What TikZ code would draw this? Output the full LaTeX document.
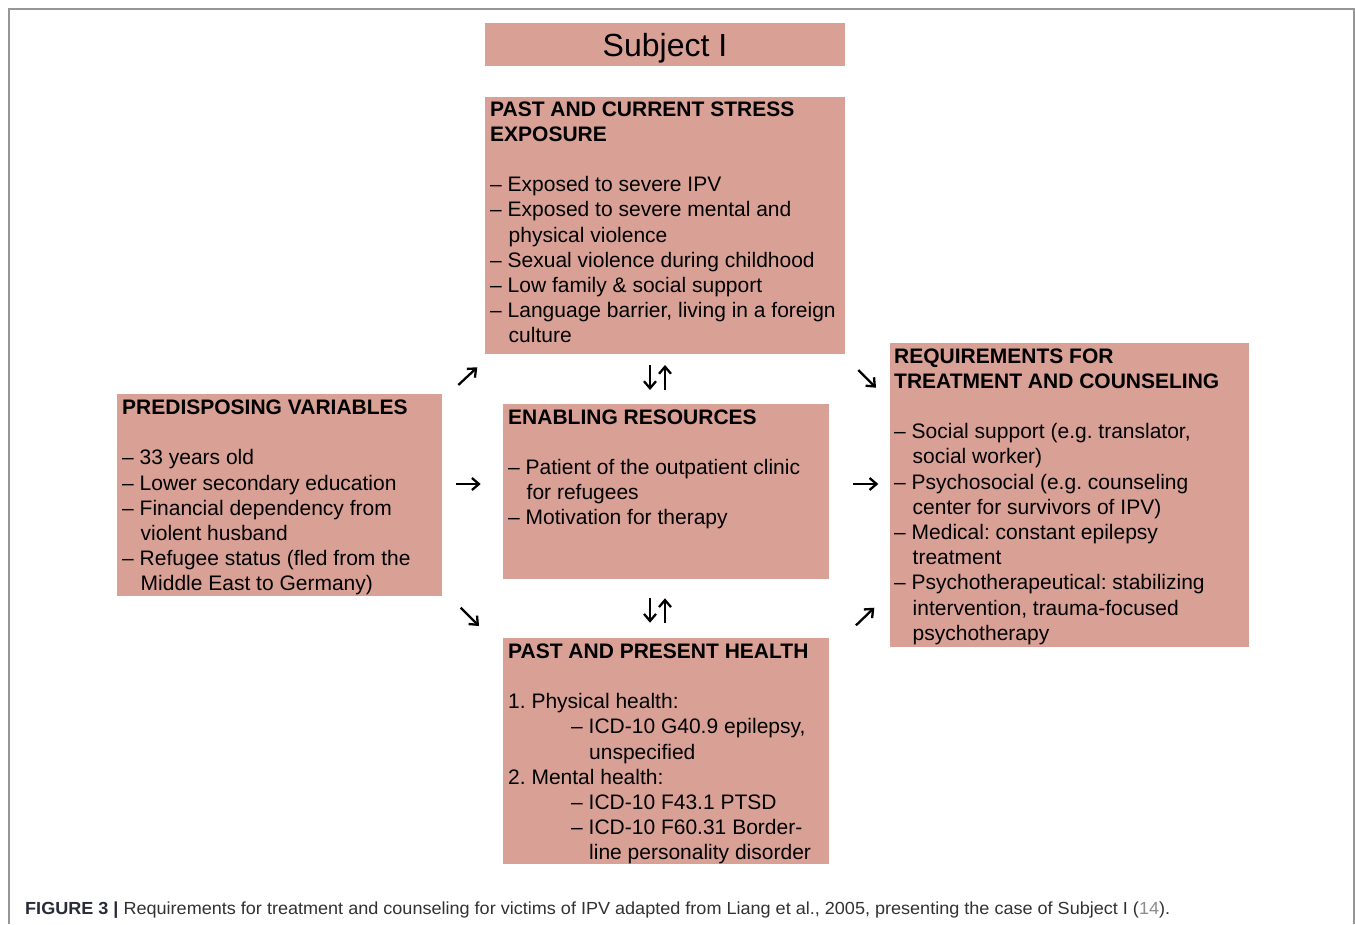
\documentclass[tikz,border=0pt]{standalone}
\usepackage{fontspec}
\usepackage{graphicx}
\setmainfont{Liberation Sans}
\usetikzlibrary{arrows.meta}
\definecolor{boxfill}{RGB}{217,160,149}
\definecolor{framegray}{RGB}{150,150,150}
\definecolor{capdark}{RGB}{40,44,56}
\definecolor{captext}{RGB}{50,50,50}
\definecolor{caplink}{RGB}{140,140,140}
\newcommand\ind{\hspace*{18.5pt}}
\frenchspacing
\begin{document}
\begin{tikzpicture}[x=1pt,y=-1pt,
  box/.style={fill=boxfill, draw=none, inner sep=0pt, outer sep=0pt, anchor=north west, rectangle},
  txt/.style={anchor=base west, inner sep=0pt, font=\fontsize{21}{25.2}\selectfont},
  arr/.style={line width=2.3pt, -{Straight Barb[length=7pt,width=12pt]}}]
\useasboundingbox (0,0) rectangle (1355,924);
\fill[white] (0,0) rectangle (1355,924);
% frame
\draw[framegray, line width=1.5pt] (9,924) -- (9,9) -- (1354,9) -- (1354,924);

% boxes
\node[box, minimum width=360pt, minimum height=43pt, text height=23pt, text depth=0pt,
      font=\fontsize{32}{38}\selectfont] (subj) at (485,23) {Subject I};
\node[box, minimum width=360pt, minimum height=257pt] (stress) at (485,97) {};
\node[box, minimum width=325pt, minimum height=202pt] (pred) at (117,394) {};
\node[box, minimum width=326pt, minimum height=175pt] (enab) at (503,404) {};
\node[box, minimum width=326pt, minimum height=226pt] (health) at (503,638) {};
\node[box, minimum width=359pt, minimum height=304pt] (req) at (890,343) {};

% texts
\node[txt] (stressT) at (490,116) {\begin{tabular}[t]{@{}l@{}}
\textbf{PAST AND CURRENT STRESS}\\
\textbf{EXPOSURE}\\
\\
– Exposed to severe IPV\\
– Exposed to severe mental and\\
\ind physical violence\\
– Sexual violence during childhood\\
– Low family \& social support\\
– Language barrier, living in a foreign\\
\ind culture
\end{tabular}};

\node[txt] (predT) at (122,414.5) {\begin{tabular}[t]{@{}l@{}}
\textbf{PREDISPOSING VARIABLES}\\
\\
– 33 years old\\
– Lower secondary education\\
– Financial dependency from\\
\ind violent husband\\
– Refugee status (fled from the\\
\ind Middle East to Germany)
\end{tabular}};

\node[txt] (enabT) at (508,424) {\begin{tabular}[t]{@{}l@{}}
\textbf{ENABLING RESOURCES}\\
\\
– Patient of the outpatient clinic\\
\ind for refugees\\
– Motivation for therapy
\end{tabular}};

\node[txt] (healthT) at (508,658.3) {\begin{tabular}[t]{@{}l@{}}
\textbf{PAST AND PRESENT HEALTH}\\
\\
1. Physical health:\\
\hspace*{63pt}– ICD-10 G40.9 epilepsy,\\
\hspace*{81pt}unspecified\\
2. Mental health:\\
\hspace*{63pt}– ICD-10 F43.1 PTSD\\
\hspace*{63pt}– ICD-10 F60.31 Border-\\
\hspace*{81pt}line personality disorder
\end{tabular}};

\node[txt] (reqT) at (894,363) {\begin{tabular}[t]{@{}l@{}}
\textbf{REQUIREMENTS FOR}\\
\textbf{TREATMENT AND COUNSELING}\\
\\
– Social support (e.g. translator,\\
\ind social worker)\\
– Psychosocial (e.g. counseling\\
\ind center for survivors of IPV)\\
– Medical: constant epilepsy\\
\ind treatment\\
– Psychotherapeutical: stabilizing\\
\ind intervention, trauma-focused\\
\ind psychotherapy
\end{tabular}};

% arrows
\coordinate (a1s) at (458.3,385);   \coordinate (a1e) at (477.3,367.3);
\coordinate (a2s) at (650,365);     \coordinate (a2e) at (650,390);
\coordinate (a3s) at (665,390);     \coordinate (a3e) at (665,365);
\coordinate (a4s) at (858.3,370);   \coordinate (a4e) at (876,387.7);
\coordinate (a5s) at (456,484);     \coordinate (a5e) at (480.7,484);
\coordinate (a6s) at (853.3,484);   \coordinate (a6e) at (878.3,484);
\coordinate (a7s) at (460.7,607.7); \coordinate (a7e) at (479,626);
\coordinate (a8s) at (650,598.3);   \coordinate (a8e) at (650,622.7);
\coordinate (a9s) at (665,622.7);   \coordinate (a9e) at (665,598.3);
\coordinate (a10s) at (856,625.3);  \coordinate (a10e) at (874.3,607.7);
\foreach \i in {1,...,10} {\draw[arr] (a\i s) -- (a\i e);}

% caption
\node[anchor=base west, inner sep=0pt] (cap) at (25,914) {\resizebox{1145pt}{\height}{\fontsize{17.5}{20}\selectfont\textcolor{capdark}{\textbf{FIGURE 3 |}} \textcolor{captext}{Requirements for treatment and counseling for victims of IPV adapted from Liang et al., 2005, presenting the case of Subject I (}\textcolor{caplink}{14}\textcolor{captext}{).}}};
\end{tikzpicture}
\end{document}
